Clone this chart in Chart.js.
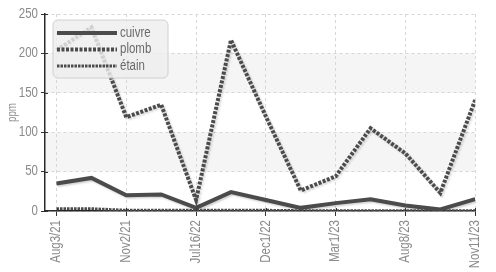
<!DOCTYPE html>
<html>
<head>
<meta charset="utf-8">
<script src="https://cdn.jsdelivr.net/npm/chart.js@4"></script>
<style>
html,body{margin:0;padding:0;background:#fff;}
#wrap{width:496px;height:272px;position:relative;}
</style>
</head>
<body>
<div id="wrap"><canvas id="c" width="496" height="272"></canvas></div>
<script>
// ---- data ----
const dateLabels = ['Aug3/21','','Nov2/21','','Jul16/22','','Dec1/22','','Mar1/23','','Aug8/23','','Nov11/23'];
const cuivre = [35, 42, 20, 21, 4, 24, 14, 4, 10, 15, 7, 2, 15];
const plomb  = [204, 233, 119, 135, 14, 217, 120, 26, 44, 105, 73, 23, 141];
const etain  = [3, 3, 1, 1, 1, 1, 1, 0.5, 0.5, 0.5, 0.5, 0.5, 0.5];
const seriesNames = ['cuivre', 'plomb', 'étain'];
const yTicks = [0, 50, 100, 150, 200, 250];
const xTickIdx = [0, 2, 4, 6, 8, 10, 12];

const FONT = "'Liberation Sans Narrow','Liberation Sans',Arial,sans-serif";
const LINE = '#4b4b4b';

// narrow-font emulation: condense glyphs horizontally (no condensed face is installed)
(function () {
  const NARROW = 0.82;
  const orig = CanvasRenderingContext2D.prototype.fillText;
  CanvasRenderingContext2D.prototype.fillText = function (t, x, y, mw) {
    const w = this.measureText(t).width * NARROW;
    return orig.call(this, t, x, y, mw !== undefined ? Math.min(mw, w) : w);
  };
})();

const toXY = arr => arr.map((v, i) => ({x: i, y: v}));

const styles = [
  {borderWidth: 4, borderDash: []},
  {borderWidth: 4, borderDash: [3, 1.5]},
  {borderWidth: 2.8, borderDash: [2.5, 1]}
];

const bgPlugin = {
  id: 'bg',
  beforeDraw(chart) {
    const {ctx, chartArea: a, scales: {y}} = chart;
    ctx.save();
    ctx.fillStyle = '#fff';
    ctx.fillRect(0, 0, chart.width, chart.height);
    ctx.fillStyle = '#f5f5f5';
    [[50, 100], [150, 200]].forEach(([lo, hi]) => {
      const t = y.getPixelForValue(hi), b = y.getPixelForValue(lo);
      ctx.fillRect(a.left, t, a.right - a.left, b - t);
    });
    ctx.restore();
  },
  beforeDatasetDraw(chart) {
    const ctx = chart.ctx;
    ctx.save();
    ctx.shadowColor = 'rgba(0,0,0,0.18)';
    ctx.shadowOffsetX = 1.5;
    ctx.shadowOffsetY = 1.5;
    ctx.shadowBlur = 2;
  },
  afterDatasetDraw(chart) {
    chart.ctx.restore();
  },
  afterDatasetsDraw(chart) {
    const {ctx, chartArea: a} = chart;
    // inner tick marks crossing axes
    ctx.save();
    ctx.strokeStyle = '#333';
    ctx.lineWidth = 1;
    chart.scales.y.ticks.forEach(t => {
      const py = Math.round(chart.scales.y.getPixelForValue(t.value)) + 0.5;
      ctx.beginPath(); ctx.moveTo(a.left, py); ctx.lineTo(a.left + 3, py); ctx.stroke();
    });
    chart.scales.x.ticks.forEach(t => {
      const px = Math.round(chart.scales.x.getPixelForValue(t.value)) + 0.5;
      ctx.beginPath(); ctx.moveTo(px, a.bottom); ctx.lineTo(px, a.bottom - 3); ctx.stroke();
    });
    ctx.restore();
    // legend box inside the plot
    const bx = a.left + 8, by = a.top + 6, bw = 115, bh = 58, r = 5;
    ctx.save();
    ctx.beginPath();
    ctx.moveTo(bx + r, by);
    ctx.arcTo(bx + bw, by, bx + bw, by + bh, r);
    ctx.arcTo(bx + bw, by + bh, bx, by + bh, r);
    ctx.arcTo(bx, by + bh, bx, by, r);
    ctx.arcTo(bx, by, bx + bw, by, r);
    ctx.closePath();
    ctx.fillStyle = 'rgba(238,238,238,0.82)';
    ctx.fill();
    ctx.strokeStyle = '#d0d0d0';
    ctx.lineWidth = 1;
    ctx.stroke();
    chart.data.datasets.forEach((ds, i) => {
      const yy = by + 13 + i * 16.5;
      ctx.save();
      ctx.strokeStyle = ds.borderColor;
      ctx.lineWidth = ds.borderWidth;
      ctx.setLineDash(ds.borderDash || []);
      ctx.beginPath(); ctx.moveTo(bx + 4, yy); ctx.lineTo(bx + 64, yy); ctx.stroke();
      ctx.restore();
      ctx.fillStyle = '#6a6a6a';
      ctx.font = '14px ' + FONT;
      ctx.textBaseline = 'middle';
      ctx.fillText(ds.label, bx + 67, yy);
    });
    ctx.restore();
  }
};

new Chart(document.getElementById('c'), {
  type: 'line',
  data: {
    datasets: [cuivre, plomb, etain].map((arr, i) => ({
      label: seriesNames[i],
      data: toXY(arr),
      borderColor: LINE,
      backgroundColor: LINE,
      borderWidth: styles[i].borderWidth,
      borderDash: styles[i].borderDash,
      pointRadius: 0,
      tension: 0,
      fill: false,
      order: 2 - i
    }))
  },
  options: {
    responsive: false,
    animation: false,
    devicePixelRatio: 1,
    layout: {padding: {top: 14, right: 6, left: 0, bottom: 0}},
    plugins: {legend: {display: false}, tooltip: {enabled: false}},
    scales: {
      x: {
        type: 'linear',
        min: -0.33,
        max: 12,
        afterBuildTicks(scale) { scale.ticks = xTickIdx.map(v => ({value: v})); },
        afterFit(scale) { scale.height = 61; },
        ticks: {
          autoSkip: false,
          minRotation: 90,
          maxRotation: 90,
          padding: 4,
          color: '#8a8a8a',
          font: {family: FONT, size: 14},
          callback: v => dateLabels[v]
        },
        grid: {color: '#d6d6d6', lineWidth: 1, tickLength: 5, tickColor: '#333', tickWidth: 1},
        border: {display: true, color: '#2a2a2a', width: 1.5, dash: [3, 3]}
      },
      y: {
        min: 0,
        max: 250,
        afterBuildTicks(scale) { scale.ticks = yTicks.map(v => ({value: v})); },
        afterFit(scale) { scale.width = 45; },
        ticks: {
          padding: 3,
          color: '#8a8a8a',
          font: {family: FONT, size: 14}
        },
        title: {display: true, text: 'ppm', color: '#8a8a8a', font: {family: FONT, size: 12}, padding: {top: 5, bottom: 0}},
        grid: {color: '#d6d6d6', lineWidth: 1, tickLength: 4, tickColor: '#333', tickWidth: 1},
        border: {display: true, color: '#2a2a2a', width: 1.5, dash: [3, 3]}
      }
    }
  },
  plugins: [bgPlugin]
});
</script>
</body>
</html>
